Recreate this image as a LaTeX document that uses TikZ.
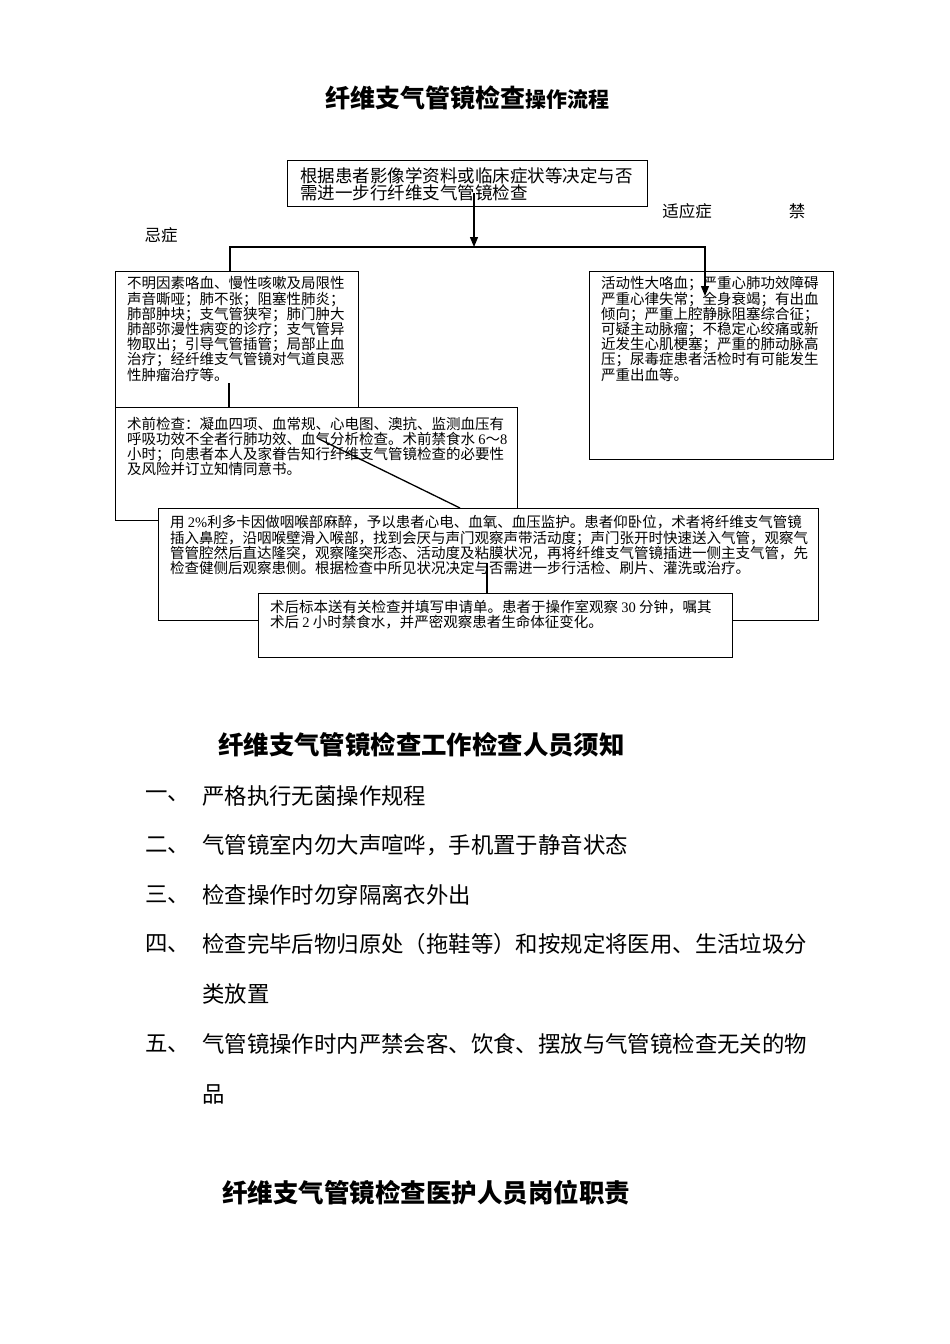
\documentclass[tikz,border=0pt]{standalone}
\usepackage{fontspec}
\setmainfont{Liberation Serif}
\newfontfamily\cjk{Noto Sans CJK SC}
\usepackage{tikz}
\usetikzlibrary{arrows.meta}
\usetikzlibrary{positioning}
\newcommand\tightlines{\setlength{\lineskiplimit}{-20pt}}
\tikzset{
  box/.style = {draw, line width=1.3pt, fill=white, anchor=north west,
    inner sep=0pt},
  boxtext/.style = {anchor=north west, align=left, inner sep=0pt,
    font=\cjk\fontsize{14.5}{15.2}\selectfont\tightlines},
  line/.style = {line width=1.3pt},
  arrow/.style = {line width=1.3pt, -{Triangle[length=10pt,width=8pt]}},
  heading/.style = {inner sep=0pt, font=\cjk\bfseries},
  sidenote/.style = {inner sep=0pt, font=\cjk\fontsize{16.5}{18}\selectfont},
  itemno/.style = {anchor=west, inner sep=0pt,
    font=\cjk\fontsize{22.4}{26}\selectfont},
  itemtext/.style = {anchor=west, inner sep=0pt,
    font=\cjk\fontsize{22.4}{26}\selectfont}
}

\begin{document}
\begin{tikzpicture}[x=1pt, y=-1pt]
  \path[use as bounding box] (0,0) rectangle (950,1344);

  % flow chart
  \node [heading] (flowtitle) at (467,98)
    {{\fontsize{25}{30}\selectfont 纤维支气管镜检查}{\fontsize{21}{30}\selectfont 操作流程}};

  \node [box, minimum width=360pt, minimum height=46pt] (decide) at (287,160) {};
  \node [boxtext, font=\cjk\fontsize{17.5}{17.2}\selectfont\tightlines]
    (decidetext) at (300,167)
    {根据患者影像学资料或临床症状等决定与否\\需进一步行纤维支气管镜检查};

  \node [sidenote] (indiclabel) at (687,211) {适应症};
  \node [sidenote] (contralabela) at (797,211) {禁};
  \node [sidenote] (contralabelb) at (161,235) {忌症};

  \node [box, minimum width=244pt, minimum height=188pt] (contra) at (589,271) {};
  \node [boxtext] (contratext) at (601,276.5)
    {活动性大咯血；严重心肺功效障碍\\
     严重心律失常；全身衰竭；有出血\\
     倾向；严重上腔静脉阻塞综合征；\\
     可疑主动脉瘤；不稳定心绞痛或新\\
     近发生心肌梗塞；严重的肺动脉高\\
     压；尿毒症患者活检时有可能发生\\
     严重出血等。};

  \node [box, minimum width=243pt, minimum height=150pt] (indic) at (115,271) {};
  \node [boxtext] (indictext) at (127,276.5)
    {不明因素咯血、慢性咳嗽及局限性\\
     声音嘶哑；肺不张；阻塞性肺炎；\\
     肺部肿块；支气管狭窄；肺门肿大\\
     肺部弥漫性病变的诊疗；支气管异\\
     物取出；引导气管插管；局部止血\\
     治疗；经纤维支气管镜对气道良恶\\
     性肿瘤治疗等。};

  \coordinate (splitin) at (474,193);
  \coordinate (split) at (474,247);
  \coordinate (busleft) at (230,247);
  \coordinate (busright) at (705,247);
  \coordinate (contratip) at (705,296);
  \draw [arrow] (splitin) -- (split);
  \draw [arrow] (busleft |- indic.north) -- (busleft) -- (busright) -- (contratip);

  \node [box, minimum width=402pt, minimum height=113pt] (preop) at (115,407) {};
  \node [boxtext] (preoptext) at (127,416.5)
    {术前检查：凝血四项、血常规、心电图、澳抗、监测血压有\\
     呼吸功效不全者行肺功效、血气分析检查。术前禁食水 {\rmfamily 6}～{\rmfamily 8}\\
     小时；向患者本人及家眷告知行纤维支气管镜检查的必要性\\
     及风险并订立知情同意书。};

  \coordinate (indicout) at (229,383);
  \draw [line] (indicout) -- (indicout |- preop.north);

  \node [box, minimum width=660pt, minimum height=112pt] (anesth) at (158,508) {};
  \node [boxtext] (anesthtext) at (170,515.5)
    {用 {\rmfamily 2\%}利多卡因做咽喉部麻醉，予以患者心电、血氧、血压监护。患者仰卧位，术者将纤维支气管镜\\
     插入鼻腔，沿咽喉壁滑入喉部，找到会厌与声门观察声带活动度；声门张开时快速送入气管，观察气\\
     管管腔然后直达隆突，观察隆突形态、活动度及粘膜状况，再将纤维支气管镜插进一侧主支气管，先\\
     检查健侧后观察患侧。根据检查中所见状况决定与否需进一步行活检、刷片、灌洗或治疗。};

  \coordinate (diagin) at (317,438);
  \coordinate (diagout) at (460,508);
  \draw [line] (diagin) -- (diagout |- anesth.north);

  \node [box, minimum width=474pt, minimum height=64pt] (postop) at (258,593) {};
  \node [boxtext] (postoptext) at (270,599.5)
    {术后标本送有关检查并填写申请单。患者于操作室观察 {\rmfamily 30} 分钟，嘱其\\
     术后 {\rmfamily 2} 小时禁食水，并严密观察患者生命体征变化。};

  \coordinate (anesthout) at (487,563);
  \draw [line] (anesthout) -- (anesthout |- postop.north);

  % rules for the staff
  \node [heading, font=\cjk\bfseries\fontsize{25.4}{30}\selectfont] (rulestitle)
    at (421.5,745) {纤维支气管镜检查工作检查人员须知};

  \node [itemno] (no1) at (145,796) {一、};
  \node [itemtext] (item1) at (202,796) {严格执行无菌操作规程};
  \node [itemno] (no2) at (145,845) {二、};
  \node [itemtext] (item2) at (202,845) {气管镜室内勿大声喧哗，手机置于静音状态};
  \node [itemno] (no3) at (145,895) {三、};
  \node [itemtext] (item3) at (202,895) {检查操作时勿穿隔离衣外出};
  \node [itemno] (no4) at (145,944) {四、};
  \node [itemtext] (item4) at (202,944) {检查完毕后物归原处（拖鞋等）和按规定将医用、生活垃圾分};
  \node [itemtext] (item4b) at (202,994) {类放置};
  \node [itemno] (no5) at (145,1044) {五、};
  \node [itemtext] (item5) at (202,1044) {气管镜操作时内严禁会客、饮食、摆放与气管镜检查无关的物};
  \node [itemtext] (item5b) at (202,1094) {品};

  \node [heading, font=\cjk\bfseries\fontsize{25.5}{30}\selectfont] (dutytitle)
    at (426,1193) {纤维支气管镜检查医护人员岗位职责};
\end{tikzpicture}
\end{document}
